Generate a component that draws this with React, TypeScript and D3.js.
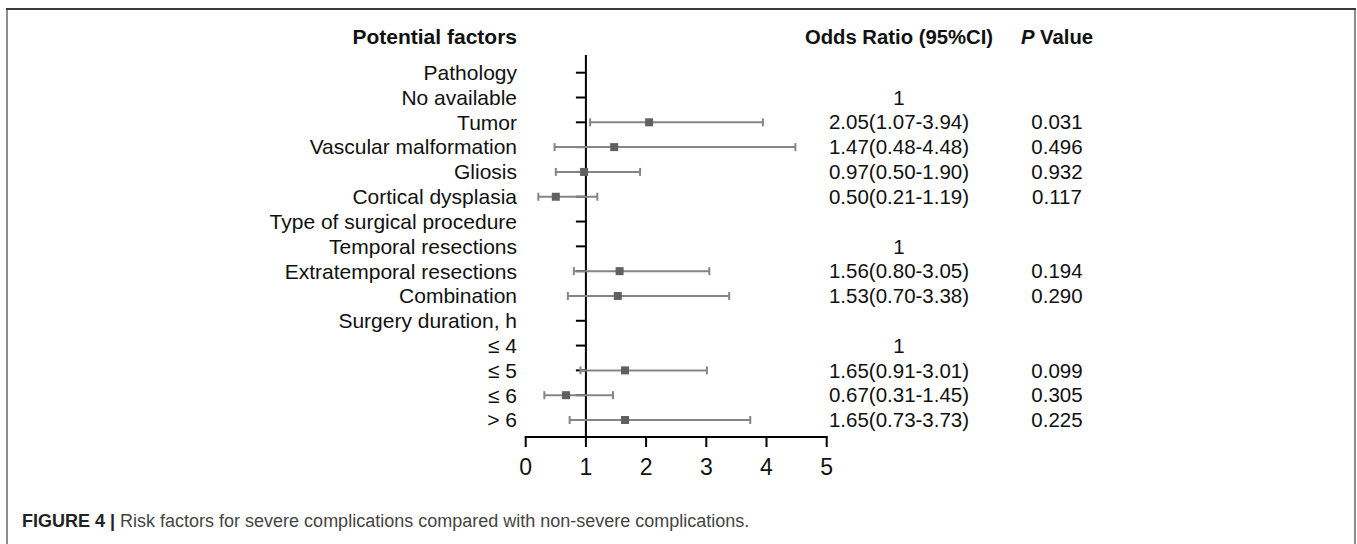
import React from 'react';
import * as d3 from 'd3';

// rows of the forest plot, top to bottom
const factors = [
  'Pathology', 'No available', 'Tumor', 'Vascular malformation', 'Gliosis', 'Cortical dysplasia',
  'Type of surgical procedure', 'Temporal resections', 'Extratemporal resections', 'Combination',
  'Surgery duration, h', '≤ 4', '≤ 5', '≤ 6', '> 6',
];
const oddsRatio = [null, 1, 2.05, 1.47, 0.97, 0.50, null, 1, 1.56, 1.53, null, 1, 1.65, 0.67, 1.65];
const ciLow = [null, null, 1.07, 0.48, 0.50, 0.21, null, null, 0.80, 0.70, null, null, 0.91, 0.31, 0.73];
const ciHigh = [null, null, 3.94, 4.48, 1.90, 1.19, null, null, 3.05, 3.38, null, null, 3.01, 1.45, 3.73];
const pValues = ['', '', '0.031', '0.496', '0.932', '0.117', '', '', '0.194', '0.290', '', '', '0.099', '0.305', '0.225'];
const xTicks = [0, 1, 2, 3, 4, 5];

const W = 1357, H = 544;
const font = 'Liberation Sans, Arial, Helvetica, sans-serif';

const orLabel = (i: number) => {
  const v = oddsRatio[i];
  if (v == null) return '';
  if (ciLow[i] == null) return '1';
  return `${v.toFixed(2)}(${ciLow[i]!.toFixed(2)}-${ciHigh[i]!.toFixed(2)})`;
};

export default function App() {
  const x = d3.scaleLinear().domain([0, 5]).range([525.7, 826.7]);
  const y = d3.scalePoint<string>().domain(factors).range([72.7, 420]);
  const axisY = 437;
  const labelX = 517;
  const orX = 899;
  const pX = 1057;

  return (
    <svg width={W} height={H} style={{ position: 'absolute', left: 0, top: 0, display: 'block' }}
      fontFamily={font}>
      <rect x={0} y={0} width={W} height={H} fill="#fff" />
      {/* frame */}
      <line x1={7} x2={7} y1={9} y2={H} stroke="#8c8c8c" strokeWidth={2} />
      <line x1={1355} x2={1355} y1={9} y2={H} stroke="#8c8c8c" strokeWidth={2} />
      <line x1={6} x2={1356} y1={9} y2={9} stroke="#3a3a3a" strokeWidth={2} />

      {/* headers */}
      <text x={labelX} y={37} dy="0.35em" textAnchor="end" fontWeight="bold" fontSize={21} fill="#111">Potential factors</text>
      <text x={orX} y={37} dy="0.35em" textAnchor="middle" fontWeight="bold" fontSize={20.3} fill="#111">Odds Ratio (95%CI)</text>
      <text x={pX} y={37} dy="0.35em" textAnchor="middle" fontWeight="bold" fontSize={20.3} fill="#111">
        <tspan fontStyle="italic">P</tspan> Value
      </text>

      {/* vertical reference line at OR = 1 */}
      <line x1={x(1)} x2={x(1)} y1={55} y2={axisY} stroke="#000" strokeWidth={2} />

      {factors.map((f, i) => {
        const cy = y(f)!;
        return (
          <g key={f}>
            <text x={labelX} y={cy} dy="0.35em" textAnchor="end" fontSize={21} fill="#111">{f}</text>
            <line x1={x(1) - 10} x2={x(1)} y1={cy} y2={cy} stroke="#000" strokeWidth={2} />
            <text x={orX} y={cy} dy="0.35em" textAnchor="middle" fontSize={20.5} fill="#111">{orLabel(i)}</text>
            <text x={pX} y={cy} dy="0.35em" textAnchor="middle" fontSize={20.5} fill="#111">{pValues[i]}</text>
            {ciLow[i] != null && (
              <g>
                <line x1={x(ciLow[i]!)} x2={x(ciHigh[i]!)} y1={cy} y2={cy} stroke="#858585" strokeWidth={2} />
                <line x1={x(ciLow[i]!)} x2={x(ciLow[i]!)} y1={cy - 4} y2={cy + 4} stroke="#858585" strokeWidth={2} />
                <line x1={x(ciHigh[i]!)} x2={x(ciHigh[i]!)} y1={cy - 4} y2={cy + 4} stroke="#858585" strokeWidth={2} />
                <rect x={x(oddsRatio[i]!) - 4} y={cy - 4} width={8} height={8} fill="#606060" />
              </g>
            )}
          </g>
        );
      })}

      {/* x axis */}
      <line x1={x(0) - 1} x2={x(5) + 1} y1={axisY} y2={axisY} stroke="#000" strokeWidth={2} />
      {xTicks.map(t => (
        <g key={t}>
          <line x1={x(t)} x2={x(t)} y1={axisY} y2={axisY + 10} stroke="#000" strokeWidth={2} />
          <text x={x(t)} y={467} dy="0.35em" textAnchor="middle" fontSize={23} fill="#111">{t}</text>
        </g>
      ))}

      {/* caption */}
      <text x={22} y={527} fontSize={18} fill="#444">
        <tspan fontWeight="bold" fill="#222">FIGURE 4 | </tspan>
        Risk factors for severe complications compared with non-severe complications.
      </text>
    </svg>
  );
}
